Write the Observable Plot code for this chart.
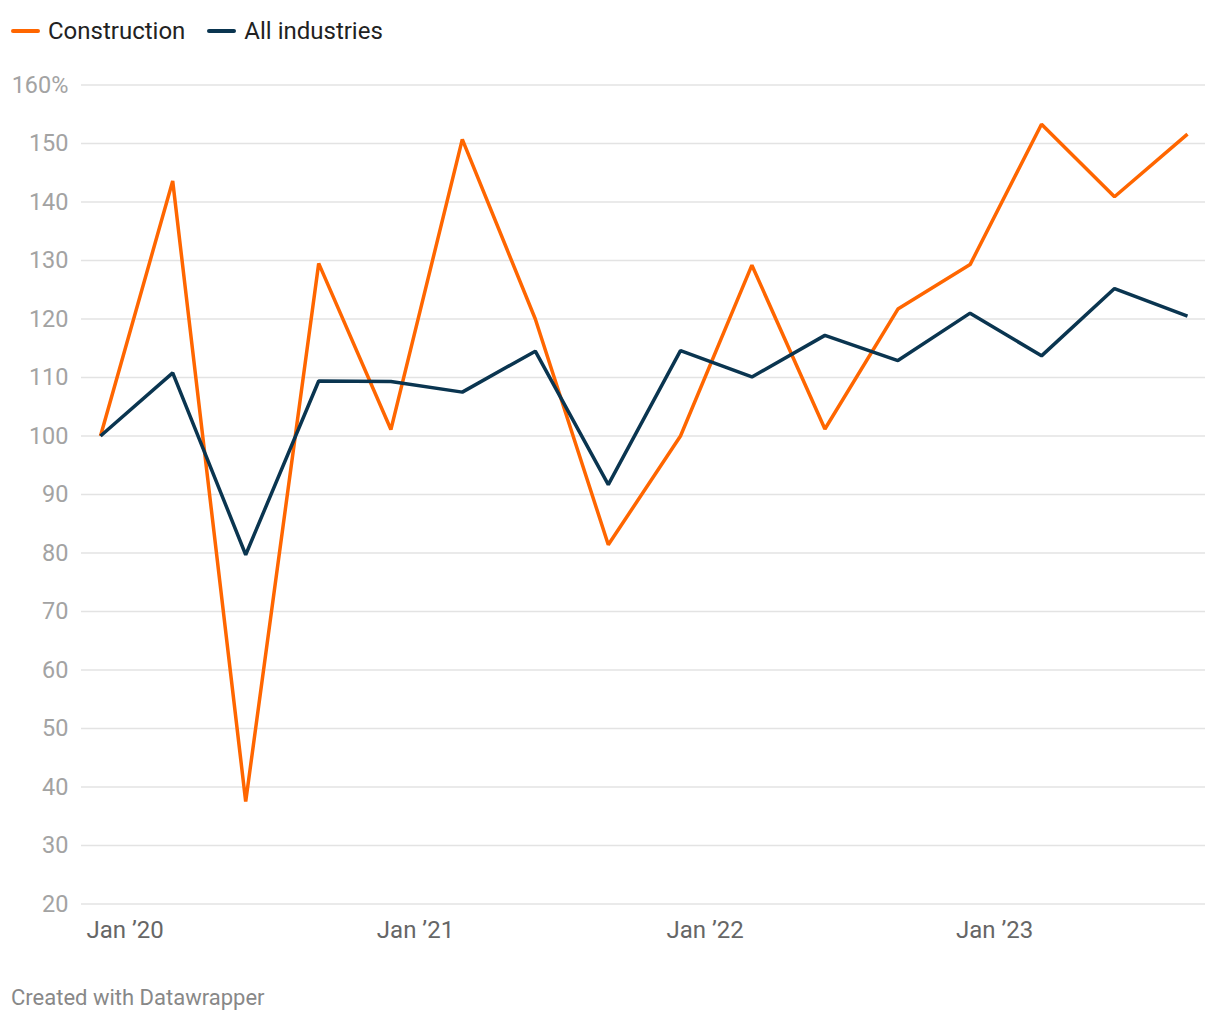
<!DOCTYPE html>
<html>
<head>
<meta charset="utf-8">
<script src="https://cdn.jsdelivr.net/npm/d3@7"></script>
<script src="https://cdn.jsdelivr.net/npm/@observablehq/plot@0.6"></script>
<style>
  html, body { margin: 0; padding: 0; background: #fff; }
  body { width: 1220px; height: 1020px; position: relative; font-family: Roboto, sans-serif; }
  #legend { position: absolute; top: 19px; left: 11px; height: 24px; display: flex; align-items: center; font-size: 24px; color: #222; line-height: 24px; }
  .item { display: flex; align-items: center; margin-right: 22px; }
  .sw { width: 29px; height: 4px; border-radius: 2px; margin-right: 8px; }
  #chart { position: absolute; top: 60px; left: 0; }
  #caption { position: absolute; top: 986px; left: 11px; font-size: 22px; line-height: 24px; color: #888; }
</style>
</head>
<body>
<div id="legend"></div>
<div id="chart"></div>
<div id="caption">Created with Datawrapper</div>
<script>
const dates = ["2019-12-01","2020-03-01","2020-06-01","2020-09-01","2020-12-01","2021-03-01","2021-06-01","2021-09-01",
               "2021-12-01","2022-03-01","2022-06-01","2022-09-01","2022-12-01","2023-03-01","2023-06-01","2023-09-01"];
const construction = [100, 143.6, 37.5, 129.5, 101.1, 150.7, 120, 81.4, 100, 129.2, 101.2, 121.7, 129.3, 153.3, 140.9, 151.6];
const allIndustries = [100, 110.8, 79.7, 109.4, 109.3, 107.5, 114.5, 91.7, 114.6, 110.1, 117.2, 112.9, 121.0, 113.7, 125.2, 120.5];
const seriesNames = ["Construction", "All industries"];
const seriesColors = ["#ff6600", "#0a3550"];
const yTicks = [20, 30, 40, 50, 60, 70, 80, 90, 100, 110, 120, 130, 140, 150, 160];
const xTicks = ["2020-01-01", "2021-01-01", "2022-01-01", "2023-01-01"];

const rows = [
  ...dates.map((d, i) => ({date: new Date(d), value: construction[i], series: seriesNames[0]})),
  ...dates.map((d, i) => ({date: new Date(d), value: allIndustries[i], series: seriesNames[1]}))
];

const legend = document.getElementById("legend");
seriesNames.forEach((name, i) => {
  const it = document.createElement("div");
  it.className = "item";
  it.innerHTML = `<span class="sw" style="background:${seriesColors[i]}"></span><span>${name}</span>`;
  legend.appendChild(it);
});

const chart = Plot.plot({
  width: 1220,
  height: 890,
  marginLeft: 100,
  marginRight: 33,
  marginTop: 24.5,
  marginBottom: 46.5,
  style: {fontFamily: "Roboto, sans-serif", fontSize: "23.5px", background: "transparent", overflow: "visible"},
  x: {type: "utc", domain: [new Date(dates[0]), new Date(dates[dates.length - 1])]},
  y: {domain: [20, 160]},
  color: {domain: seriesNames, range: seriesColors},
  marks: [
    Plot.ruleY(yTicks, {stroke: "#e3e3e3", strokeWidth: 1.4, insetLeft: -19, insetRight: -18}),
    Plot.axisY({ticks: yTicks, tickSize: 0, tickPadding: 32, label: null, fill: "#a3a3a3",
                tickFormat: d => d === 160 ? "160%" : String(d)}),
    Plot.axisX({ticks: xTicks.map(d => new Date(d)), tickSize: 0, tickPadding: 17, label: null, fill: "#666",
                fontSize: 24, tickFormat: d => `Jan ’${String(d.getUTCFullYear()).slice(2)}`}),
    Plot.line(rows, {x: "date", y: "value", stroke: "series", z: "series", strokeWidth: 3.5,
                     strokeLinejoin: "miter", strokeLinecap: "butt"})
  ]
});
document.getElementById("chart").appendChild(chart);
</script>
</body>
</html>
